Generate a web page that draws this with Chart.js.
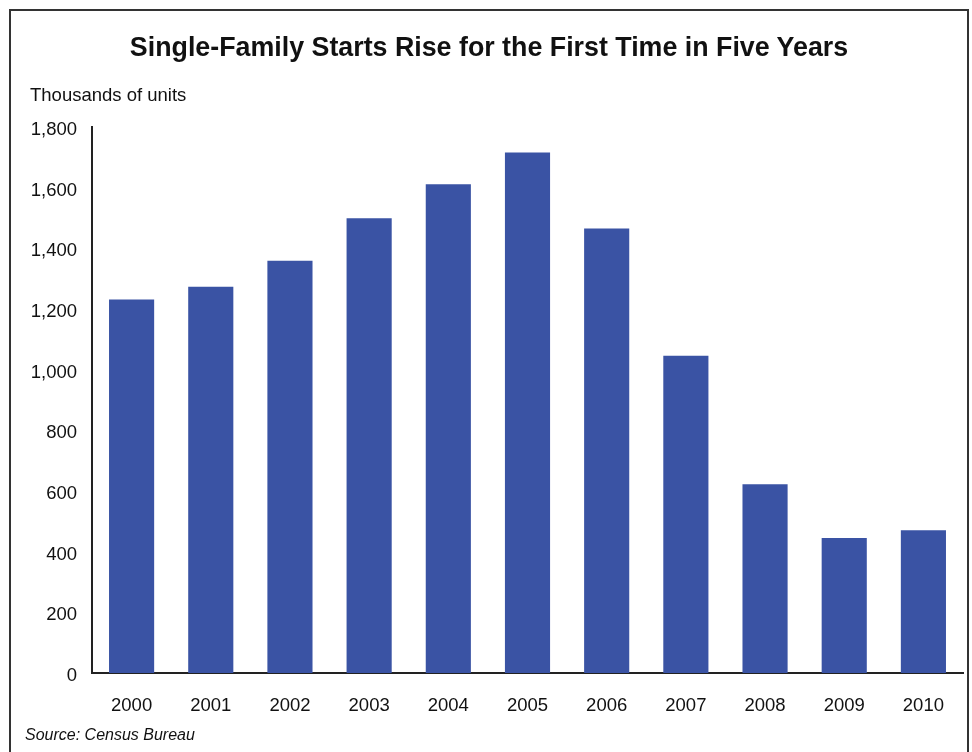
<!DOCTYPE html>
<html>
<head>
<meta charset="utf-8">
<script src="https://cdn.jsdelivr.net/npm/chart.js@4.4.1/dist/chart.umd.min.js"></script>
<style>
  html, body { margin: 0; padding: 0; background: #fff; overflow: hidden; }
  body { width: 972px; height: 752px; position: relative; font-family: Arial, "Liberation Sans", sans-serif; color: #111; }
  #frame { position: absolute; left: 9px; top: 9px; width: 960px; height: 820px; box-sizing: border-box; border: 2px solid #333; }
  #wrap { position: absolute; left: 0; top: 0; width: 972px; height: 752px; }
  .txt { position: absolute; white-space: nowrap; line-height: 1; }
  #title { left: 0; width: 978px; text-align: center; top: 34px; font-size: 26.8px; font-weight: bold; }
  #units { left: 30px; top: 86px; font-size: 18.5px; }
  #source { left: 25px; top: 727px; font-size: 16px; font-style: italic; }
</style>
</head>
<body>
<div id="frame"></div>
<div id="wrap"><canvas id="chart" width="972" height="752"></canvas></div>
<div class="txt" id="title">Single-Family Starts Rise for the First Time in Five Years</div>
<div class="txt" id="units">Thousands of units</div>
<div class="txt" id="source">Source: Census Bureau</div>
<script>
/* ── DATA ── */
const years  = ['2000', '2001', '2002', '2003', '2004', '2005', '2006', '2007', '2008', '2009', '2010'];
const starts = [1231, 1273, 1359, 1499, 1611, 1716, 1465, 1046, 622, 445, 471];
const yTicks = [0, 200, 400, 600, 800, 1000, 1200, 1400, 1600, 1800];

const BAR  = '#3a53a4';
const AXIS = '#222';
const FONT = { family: "Arial, 'Liberation Sans', sans-serif", size: 18.5 };

new Chart(document.getElementById('chart'), {
  type: 'bar',
  data: {
    labels: years,
    datasets: [{
      data: starts,
      backgroundColor: BAR,
      borderWidth: 0,
      barPercentage: 0.57,
      categoryPercentage: 1,
    }],
  },
  options: {
    responsive: false,
    animation: false,
    layout: { padding: { left: 0, top: 127, right: 9, bottom: 0 } },
    plugins: { legend: { display: false }, tooltip: { enabled: false } },
    scales: {
      x: {
        grid: { display: false, drawTicks: false },
        border: { color: AXIS, width: 2 },
        ticks: { color: '#111', font: FONT, padding: 22, maxRotation: 0 },
        afterFit: s => { s.height = 79; },
      },
      y: {
        min: yTicks[0],
        max: yTicks[yTicks.length - 1],
        grid: { display: false, drawTicks: false },
        border: { color: AXIS, width: 2 },
        afterBuildTicks: s => { s.ticks = yTicks.map(v => ({ value: v })); },
        ticks: {
          color: '#111', font: FONT, padding: 15, labelOffset: 3,
          callback: v => v.toLocaleString('en-US'),
        },
        afterFit: s => { s.width = 92; },
      },
    },
  },
});
</script>
</body>
</html>
